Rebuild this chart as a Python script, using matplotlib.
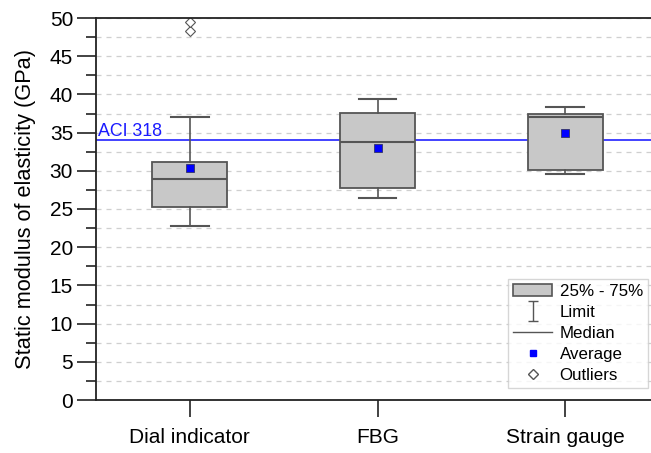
import matplotlib
matplotlib.use("Agg")
import matplotlib.pyplot as plt
from matplotlib.path import Path
from matplotlib.patches import Patch
from matplotlib.lines import Line2D
from matplotlib.ticker import MultipleLocator

plt.rcParams['font.family'] = ['Liberation Sans', 'DejaVu Sans']

# box statistics for each measuring method (GPa)
methods = ['Dial indicator', 'FBG', 'Strain gauge']
whisker_low = [22.8, 26.4, 29.6]
q1 = [25.3, 27.8, 30.1]
median = [28.9, 33.8, 37.0]
q3 = [31.2, 37.6, 37.4]
whisker_high = [37.1, 39.4, 38.3]
average = [30.4, 33.0, 34.9]
outliers = [[48.3, 49.5], [], []]
aci_318 = 34.0

edge = '#555555'
fill = '#c8c8c8'

stats = []
for i, name in enumerate(methods):
    stats.append({
        'label': name,
        'whislo': whisker_low[i],
        'q1': q1[i],
        'med': median[i],
        'q3': q3[i],
        'whishi': whisker_high[i],
        'mean': average[i],
        'fliers': outliers[i],
    })

fig = plt.figure(figsize=(6.51, 4.53), dpi=100)
ax = fig.add_axes([96 / 651, 1 - 400 / 453, (659 - 96) / 651, (400 - 18) / 453])

ax.bxp(stats, positions=[1, 2, 3], widths=0.4, capwidths=0.2,
       showmeans=True, patch_artist=True,
       boxprops=dict(facecolor=fill, edgecolor=edge, linewidth=1.3),
       medianprops=dict(color=edge, linewidth=1.5),
       whiskerprops=dict(color=edge, linewidth=1.2),
       capprops=dict(color=edge, linewidth=1.5),
       meanprops=dict(marker='s', markerfacecolor='#0000ff', markeredgecolor='#333366',
                      markeredgewidth=0.6, markersize=6),
       flierprops=dict(marker='D', markerfacecolor='white', markeredgecolor='#555555',
                       markeredgewidth=0.8, markersize=5.5))

# reference line from ACI 318
ax.axhline(aci_318, color='#3333ff', linewidth=1.3, zorder=1)
ax.text(0.51, aci_318 + 0.05, 'ACI 318', color='#1a1aff', fontsize=12.8,
        ha='left', va='bottom')

ax.set_xlim(0.5, 3.5)
ax.set_ylim(0, 50)
ax.yaxis.set_major_locator(MultipleLocator(5))
ax.yaxis.set_minor_locator(MultipleLocator(2.5))
ax.grid(True, axis='y', which='both', linestyle=(0, (4, 4)), color='#cfcfcf', linewidth=0.9)
ax.set_axisbelow(True)

ax.set_xticks([1, 2, 3])
ax.set_xticklabels(methods)
ax.tick_params(axis='both', which='major', direction='out', width=1.2, labelsize=15, color='#222222')
ax.tick_params(axis='y', which='major', length=13.5, pad=3)
ax.tick_params(axis='y', which='minor', length=7, width=1.2, color='#222222')
ax.tick_params(axis='x', which='major', length=12, pad=8)
for side in ['left', 'bottom', 'top']:
    ax.spines[side].set_linewidth(1.3)
    ax.spines[side].set_color('#222222')
ax.spines['right'].set_visible(False)

ax.set_ylabel('Static modulus of elasticity (GPa)', fontsize=15.7, labelpad=10)

# I-shaped marker used for the limit entry
limit_path = Path([(-0.5, 1), (0.5, 1), (0, 1), (0, -1), (-0.5, -1), (0.5, -1)],
                  [Path.MOVETO, Path.LINETO, Path.MOVETO, Path.LINETO, Path.MOVETO, Path.LINETO])

handles = [
    Patch(facecolor=fill, edgecolor=edge, linewidth=1.2),
    Line2D([], [], linestyle='none', marker=limit_path, markersize=14,
           markeredgecolor=edge, markerfacecolor='none', markeredgewidth=1.0),
    Line2D([], [], color=edge, linewidth=1.0),
    Line2D([], [], linestyle='none', marker='s', color='#0000ff', markersize=5),
    Line2D([], [], linestyle='none', marker='D', markerfacecolor='white',
           markeredgecolor='#555555', markersize=5),
]
labels = ['25% - 75%', 'Limit', 'Median', 'Average', 'Outliers']
leg = ax.legend(handles, labels, loc='lower right', bbox_to_anchor=(648 / 651, 1 - 388 / 453),
                bbox_transform=fig.transFigure, fontsize=12.2, frameon=True, fancybox=False,
                edgecolor='#cccccc', borderaxespad=0, handlelength=2.3, handletextpad=0.45,
                labelspacing=0.35, borderpad=0.3)
leg.get_frame().set_linewidth(1.0)

fig.savefig('out.png', dpi=100)
